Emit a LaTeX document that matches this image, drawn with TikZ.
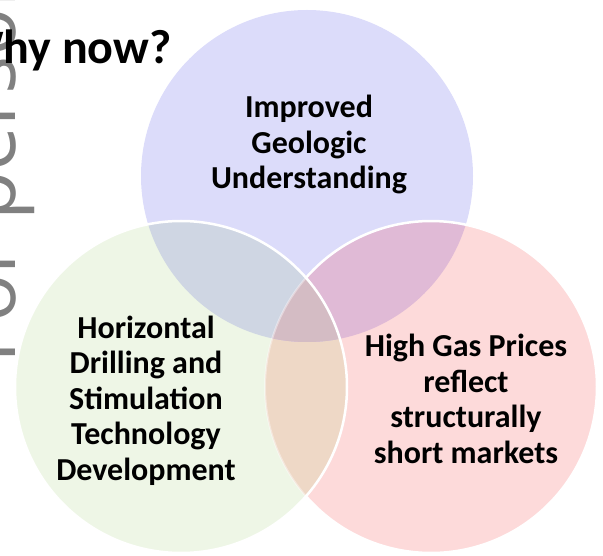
\documentclass[tikz,border=0pt]{standalone}
\usepackage{fontspec}
\setmainfont{Carlito}
\newfontfamily\wmfont{Open Sans}
\definecolor{bluec}{RGB}{220,220,250}
\definecolor{greenc}{RGB}{238,246,230}
\definecolor{pinkc}{RGB}{253,218,218}
\definecolor{bgc}{RGB}{207,214,227}
\definecolor{bpc}{RGB}{224,186,214}
\definecolor{gpc}{RGB}{238,216,198}
\definecolor{tric}{RGB}{212,188,196}
\definecolor{wmgray}{RGB}{128,128,128}
\tikzset{
  lbl/.style={font=\fontsize{32pt}{35.5pt}\selectfont\bfseries, align=center, anchor=base, inner sep=0pt},
  rim/.style={draw=white, line width=2.5pt}
}
\begin{document}
\begin{tikzpicture}[x=1pt,y=1pt]
\useasboundingbox (0,0) rectangle (603,555);
\clip (0,0) rectangle (603,555);
\def\vR{166pt}
\coordinate (cb) at (307,379);
\coordinate (cg) at (181,168);
\coordinate (cp) at (431,168);
% watermark
\node[rotate=90, anchor=base west, inner sep=0pt, text=wmgray, font=\wmfont\fontsize{80pt}{96pt}\selectfont] (wm) at (15,191) {For personal use only};
% base circles
\fill[bluec] (cb) circle[radius=\vR];
\fill[greenc] (cg) circle[radius=\vR];
\fill[pinkc] (cp) circle[radius=\vR];
% green-pink overlap
\begin{scope}
  \clip (cg) circle[radius=\vR];
  \fill[gpc] (cp) circle[radius=\vR];
\end{scope}
% overlaps with blue
\begin{scope}
  \clip (cb) circle[radius=\vR];
  \fill[bgc] (cg) circle[radius=\vR];
  \fill[bpc] (cp) circle[radius=\vR];
  \clip (cg) circle[radius=\vR];
  \fill[tric] (cp) circle[radius=\vR];
\end{scope}
% outlines
\draw[rim] (cp) ++(-138.9:\vR) arc[start angle=-138.9, end angle=138.9, radius=\vR];
\draw[draw=white, line width=2pt, opacity=0.4] (cp) ++(138.9:\vR) arc[start angle=138.9, end angle=221.1, radius=\vR];
\draw[rim] (cg) circle[radius=\vR];
% texts
\node[lbl] (geo) at (309,366) {Improved\\Geologic\\Understanding};
\node[lbl] (hor) at (146,75) {Horizontal\\Drilling and\\Stimulation\\Technology\\Development};
\node[lbl] (gas) at (466,92) {High Gas Prices\\reflect\\structurally\\short markets};
\node[anchor=base west, inner sep=0pt, font=\fontsize{48pt}{56pt}\selectfont\bfseries] (why) at (-40,491) {Why now?};
\end{tikzpicture}
\end{document}
